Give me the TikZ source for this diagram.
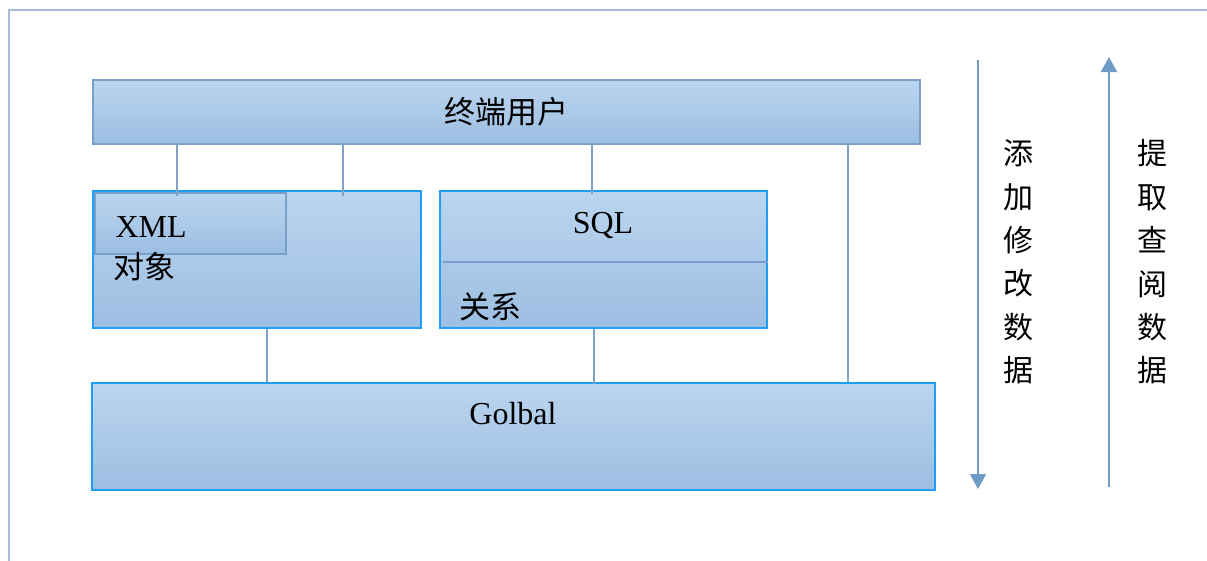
\documentclass[tikz,border=0pt]{standalone}
\usepackage{fontspec}
\setmainfont{Liberation Serif}
\newfontfamily\cjk{Noto Sans CJK SC}
\usetikzlibrary{arrows.meta}
\definecolor{gtop}{HTML}{BBD5EF}
\definecolor{gbot}{HTML}{9CBEE2}
\definecolor{dimedge}{HTML}{78A0C9}
\definecolor{brightedge}{HTML}{1E9EF5}
\definecolor{wire}{HTML}{7EA3C8}
\definecolor{arrowc}{HTML}{6F9CC6}
\definecolor{frame}{HTML}{A3BCD8}
\tikzset{
  panel/.style={rectangle, top color=gtop, bottom color=gbot, line width=1.8pt, inner sep=0pt},
  dimpanel/.style={panel, draw=dimedge},
  brightpanel/.style={panel, draw=brightedge},
  wireline/.style={draw=wire, line width=1.6pt},
  flow/.style={draw=arrowc, line width=2pt, -{Triangle[width=16pt,length=15pt]}},
  lat/.style={font=\fontsize{32}{38}\selectfont},
  han/.style={font=\cjk\fontsize{31}{43}\selectfont},
  vtext/.style={font=\cjk\fontsize{30}{43.4}\selectfont, align=center}
}
\begin{document}
\begin{tikzpicture}[x=1pt,y=-1pt]
\useasboundingbox (0,0) rectangle (1207,560);
% outer frame
\draw[frame, line width=1.8pt] (9,600) -- (9,10) -- (1250,10);
% boxes
\node[dimpanel, minimum width=827pt, minimum height=64pt] (top) at (506.5,112) {};
\node[han] at (top.center) {终端用户};
\node[brightpanel, minimum width=328pt, minimum height=137pt] (xmlobj) at (257,259.5) {};
\node[dimpanel, minimum width=191pt, minimum height=61pt] (xml) at (190.5,223.5) {};
\node[lat, anchor=west] (xmltext) at (112,227) {XML};
\node[han, anchor=west] (objtext) at (110,267) {对象};
\node[brightpanel, minimum width=327pt, minimum height=137pt] (sql) at (603.5,259.5) {};
\node[lat] (sqltext) at (603,225) {SQL};
\coordinate (divl) at (443,262);
\draw[draw=dimedge, line width=1.6pt] (divl) -- (divl -| sql.east);
\node[han, anchor=west] (reltext) at (456,307) {关系};
\node[brightpanel, minimum width=843pt, minimum height=107pt] (glob) at (513.5,436.5) {};
\node[lat] (globtext) at (513,414) {Golbal};
% connector x positions
\coordinate (c1) at (177,0);
\coordinate (c2) at (343,0);
\coordinate (c3) at (592,0);
\coordinate (c4) at (267,0);
\coordinate (c5) at (594,0);
\coordinate (c6) at (848,0);
\draw[wireline] (top.south -| c1) -- ([yshift=-6pt]xmlobj.north -| c1);
\draw[wireline] (top.south -| c2) -- ([yshift=-6pt]xmlobj.north -| c2);
\draw[wireline] (top.south -| c3) -- ([yshift=-4pt]sql.north -| c3);
\draw[wireline] (xmlobj.south -| c4) -- (glob.north -| c4);
\draw[wireline] (sql.south -| c5) -- ([yshift=-2pt]glob.north -| c5);
\draw[wireline] (top.south -| c6) -- (glob.north -| c6);
% flow arrows
\coordinate (dstart) at (978,60);
\coordinate (dend) at (978,489);
\coordinate (ustart) at (1109,487);
\coordinate (uend) at (1109,57);
\draw[flow] (dstart) -- (dend);
\draw[flow] (ustart) -- (uend);
\node[vtext] (addtext) at (1018,262) {添\\加\\修\\改\\数\\据};
\node[vtext] (gettext) at (1152,262) {提\\取\\查\\阅\\数\\据};
\end{tikzpicture}
\end{document}
